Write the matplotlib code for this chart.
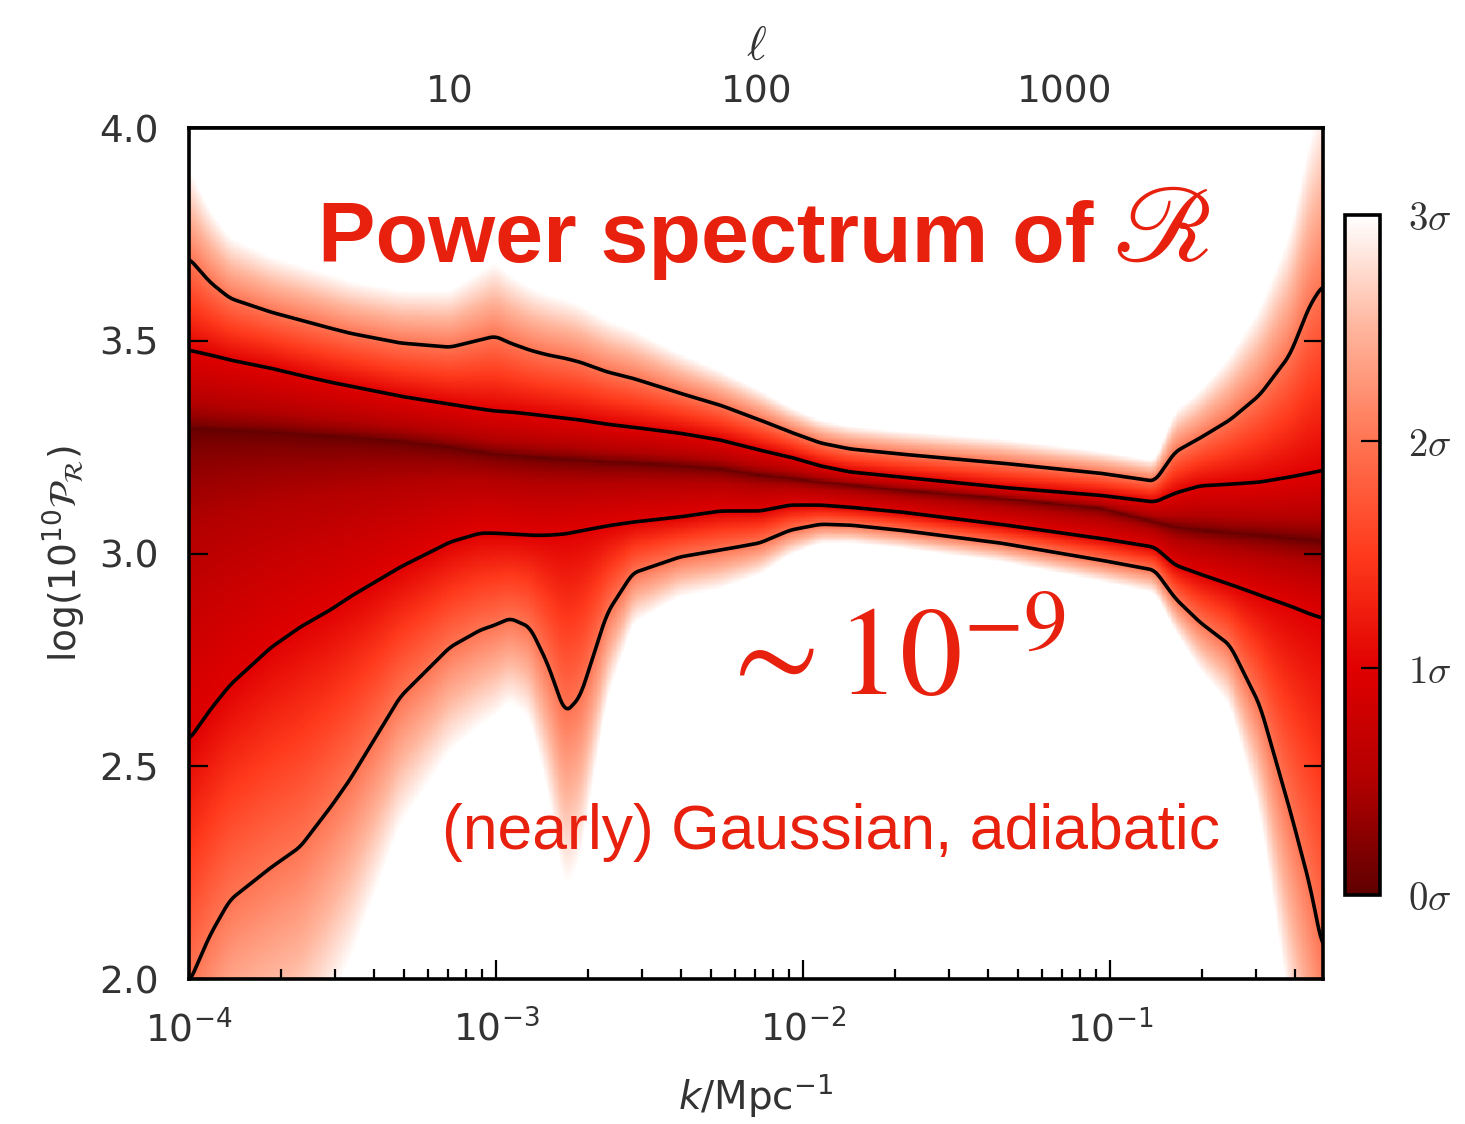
import numpy as np
import matplotlib
matplotlib.use('Agg')
import matplotlib.pyplot as plt
from matplotlib.colors import LinearSegmentedColormap
from matplotlib.ticker import LogLocator, FixedLocator, FixedFormatter, NullFormatter

k = [1.0e-4, 1.17e-4, 1.36e-4, 1.84e-4, 2.30e-4, 2.88e-4, 3.34e-4, 4.87e-4,
     7.08e-4, 8.87e-4, 9.93e-4, 1.11e-3, 1.29e-3, 1.47e-3, 1.68e-3, 1.88e-3,
     2.30e-3, 2.79e-3, 3.97e-3, 5.37e-3, 7.24e-3, 9.07e-3, 1.14e-2, 1.42e-2,
     2.07e-2, 4.38e-2, 9.27e-2, 0.140, 0.163, 0.196, 0.246, 0.308, 0.386,
     0.448, 0.494]

# log(10^10 P_R): 2 sigma upper, 1 sigma upper, median, 1 sigma lower, 2 sigma lower
up2 = [3.694, 3.638, 3.600, 3.568, 3.549, 3.530, 3.518, 3.495, 3.485, 3.502,
       3.511, 3.495, 3.478, 3.467, 3.459, 3.450, 3.427, 3.412, 3.377, 3.349,
       3.314, 3.286, 3.260, 3.246, 3.234, 3.213, 3.189, 3.170, 3.239, 3.271,
       3.314, 3.373, 3.467, 3.584, 3.631]
up1 = [3.478, 3.467, 3.455, 3.436, 3.419, 3.403, 3.394, 3.370, 3.351, 3.340,
       3.335, 3.333, 3.328, 3.323, 3.318, 3.314, 3.304, 3.297, 3.283, 3.267,
       3.243, 3.227, 3.206, 3.192, 3.180, 3.156, 3.137, 3.121, 3.142, 3.159,
       3.163, 3.168, 3.180, 3.189, 3.196]
med = [3.295, 3.293, 3.290, 3.286, 3.281, 3.276, 3.274, 3.264, 3.250, 3.239,
       3.234, 3.231, 3.227, 3.224, 3.222, 3.220, 3.215, 3.213, 3.206, 3.199,
       3.184, 3.177, 3.168, 3.161, 3.149, 3.130, 3.107, 3.074, 3.062, 3.055,
       3.048, 3.043, 3.036, 3.032, 3.029]
lo1 = [2.562, 2.632, 2.691, 2.778, 2.827, 2.867, 2.898, 2.968, 3.027, 3.048,
       3.048, 3.046, 3.043, 3.043, 3.046, 3.053, 3.065, 3.074, 3.086, 3.100,
       3.100, 3.114, 3.114, 3.109, 3.098, 3.069, 3.036, 3.015, 2.973, 2.952,
       2.928, 2.902, 2.877, 2.858, 2.848]
lo2 = [1.990, 2.103, 2.186, 2.261, 2.310, 2.402, 2.468, 2.663, 2.780, 2.820,
       2.832, 2.848, 2.827, 2.743, 2.625, 2.663, 2.860, 2.954, 2.992, 3.008,
       3.025, 3.055, 3.069, 3.067, 3.055, 3.025, 2.985, 2.961, 2.895, 2.839,
       2.785, 2.644, 2.397, 2.221, 2.068]

sigma_ticks = [0, 1, 2, 3]
sigma_labels = [r'$0\sigma$', r'$1\sigma$', r'$2\sigma$', r'$3\sigma$']
ell_ticks = [10, 100, 1000]
ell_per_k = 14100.0

red = '#e8210f'
grey = '#333333'

fig = plt.figure(figsize=(14.65, 11.24), dpi=100)
ax = fig.add_axes([0.129, 0.129, 0.774, 0.757])
cax = fig.add_axes([0.918, 0.204, 0.024, 0.605])

# resample the read-off curves on a fine log-k grid, lightly smoothed
lk = np.log10(k)
kg = np.logspace(lk[0], lk[-1], 900)
lkg = np.log10(kg)
pg = np.linspace(2.0, 4.0, 700)


def smooth(vals, n=9):
    y = np.interp(lkg, lk, vals)
    ypad = np.concatenate([np.full(n, y[0]), y, np.full(n, y[-1])])
    win = np.ones(n) / n
    return np.convolve(ypad, win, mode='same')[n:-n]


U2, U1, M, L1, L2 = (smooth(c) for c in (up2, up1, med, lo1, lo2))

# sigma-distance field built from the contour curves
P = pg[:, None]
in_up = np.clip((P - M) / (U1 - M), 0, None) ** 0.6
in_lo = np.clip((M - P) / (M - L1), 0, None) ** 0.6
above = np.where(P <= U1, in_up,
                 np.where(P <= U2, 1 + (P - U1) / (U2 - U1),
                          2 + (P - U2) / (U2 - U1)))
below = np.where(P >= L1, in_lo,
                 np.where(P >= L2, 1 + (L1 - P) / (L1 - L2),
                          2 + (L2 - P) / (L1 - L2)))
S = np.clip(np.where(P >= M, above, below), 0, 3)

cmap = LinearSegmentedColormap.from_list('sig', [
    (0.0, '#600000'), (0.167, '#b20000'), (0.333, '#e00000'),
    (0.5, '#ff3a1c'), (0.667, '#ff7452'), (0.833, '#ffb59c'), (1.0, '#ffffff')])
mesh = ax.pcolormesh(kg, pg, S, cmap=cmap, vmin=0, vmax=3, shading='auto',
                     rasterized=True)

for curve in (U2, U1, L1, L2):
    ax.plot(kg, curve, color='black', lw=2.6)

ax.set_xscale('log')
ax.set_xlim(1e-4, 0.494)
ax.set_ylim(2.0, 4.0)
ax.set_yticks([2.0, 2.5, 3.0, 3.5, 4.0])
ax.set_yticklabels(['2.0', '2.5', '3.0', '3.5', '4.0'])
ax.xaxis.set_minor_locator(LogLocator(base=10, subs=np.arange(2, 10)))
ax.xaxis.set_minor_formatter(NullFormatter())
ax.tick_params(which='both', direction='in', top=False, right=True,
               colors='black', labelcolor=grey, labelsize=27, width=1.6)
ax.tick_params(which='major', length=14)
ax.tick_params(which='minor', length=7)
ax.tick_params(axis='y', pad=22)
ax.tick_params(axis='x', pad=22)
for sp in ax.spines.values():
    sp.set_linewidth(2.6)

ax.set_xlabel(r'$k/\mathrm{Mpc}^{-1}$', fontsize=28, color=grey, labelpad=16)
ax.set_ylabel(r'$\log(10^{10}\mathcal{P}_\mathcal{R})$', fontsize=27,
              color=grey, labelpad=8)

sec = ax.secondary_xaxis('top', functions=(lambda x: x * ell_per_k,
                                           lambda l: l / ell_per_k))
sec.xaxis.set_major_locator(FixedLocator(ell_ticks))
sec.xaxis.set_major_formatter(FixedFormatter([str(t) for t in ell_ticks]))
sec.xaxis.set_minor_locator(LogLocator(base=10, subs=np.arange(2, 10)))
sec.xaxis.set_minor_formatter(NullFormatter())
sec.tick_params(which='both', direction='in', labelcolor=grey, labelsize=27,
                width=1.6, pad=13)
sec.tick_params(which='major', length=14)
sec.tick_params(which='minor', length=7)
sec.spines['top'].set_linewidth(2.6)
sec.set_xlabel(r'$\ell$', fontsize=34, color=grey, labelpad=10,
               math_fontfamily='cm')

cb = fig.colorbar(mesh, cax=cax, ticks=sigma_ticks)
cb.ax.set_yticklabels(sigma_labels, math_fontfamily='cm')
cb.ax.tick_params(direction='in', length=14, width=1.6, labelsize=28,
                  labelcolor=grey, pad=20)
cb.outline.set_linewidth(2.6)

fig.text(0.217, 0.767, 'Power spectrum of', fontsize=62,
         fontweight='bold', family='Liberation Sans', color=red,
         ha='left', va='baseline')
fig.text(0.760, 0.768, r'$\mathscr{R}$', fontsize=78, color=red,
         math_fontfamily='stix', ha='left', va='baseline')
fig.text(0.488, 0.382, r'$\sim 10^{-9}$', fontsize=90, color=red,
         math_fontfamily='stix', ha='left', va='baseline')
fig.text(0.302, 0.245, '(nearly) Gaussian, adiabatic', fontsize=45,
         family='Liberation Sans', color=red, ha='left', va='baseline')

fig.savefig('out.png', dpi=100)
